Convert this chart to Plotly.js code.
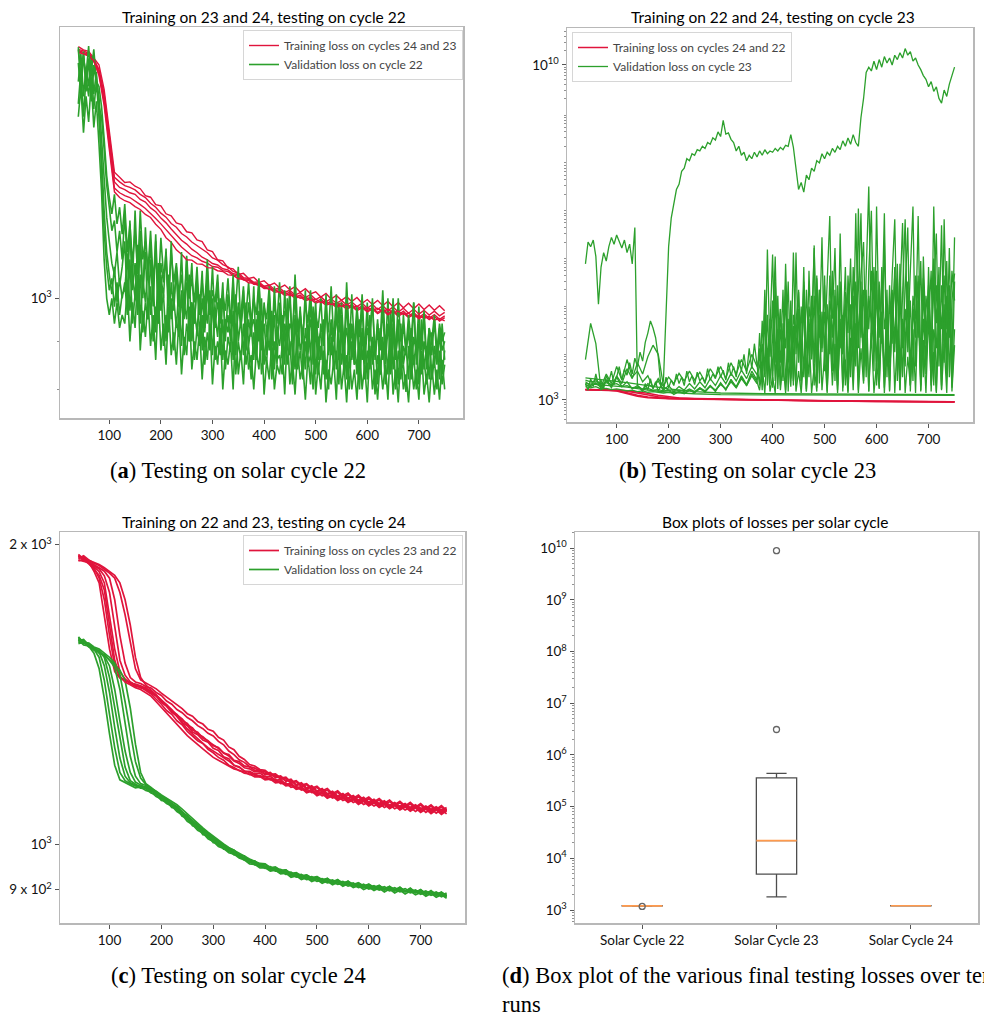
<!DOCTYPE html>
<html><head><meta charset="utf-8">
<script src="https://cdn.plot.ly/plotly-3.0.1.min.js"></script>
<style>html,body{margin:0;padding:0;background:#fff;}#chart{width:984px;height:1012px;}</style>
</head><body><div id="chart"></div>
<script>
// ---------------- epochs ----------------
const E10 = [40,50,60,70,80,90,100,110,120,130,140,150,160,170,180,190,200,210,220,230,240,250,260,270,280,290,300,310,320,330,340,350,360,370,380,390,400,410,420,430,440,450,460,470,480,490,500,510,520,530,540,550,560,570,580,590,600,610,620,630,640,650,660,670,680,690,700,710,720,730,740,750];
const E5 = [40,45,50,55,60,65,70,75,80,85,90,95,100,105,110,115,120,125,130,135,
140,145,150,155,160,165,170,175,180,185,190,195,200,205,210,215,220,225,230,235,
240,245,250,255,260,265,270,275,280,285,290,295,300,305,310,315,320,325,330,335,
340,345,350,355,360,365,370,375,380,385,390,395,400,405,410,415,420,425,430,435,
440,445,450,455,460,465,470,475,480,485,490,495,500,505,510,515,520,525,530,535,
540,545,550,555,560,565,570,575,580,585,590,595,600,605,610,615,620,625,630,635,
640,645,650,655,660,665,670,675,680,685,690,695,700,705,710,715,720,725,730,735,
740,745,750];
const EBmix = E10.slice(0,34).concat(E5.slice(67));
const EBsparse = [40,80,120,160,200,250,300,400,500,600,750];
const ERB = [40,80,100,120,140,160,180,200,220,250,300,400,500,600,750];

// ---------------- panel (a): testing on cycle 22 ----------------
const trainA1 = [1852,1838,1831,1801,1772,1668,1515,1362,1345,1328,1330,1316,1308,1286,1281,1258,1254,1230,1224,1203,1198,1177,1174,1154,1149,1126,1121,1099,1096,1077,1075,1060,1063,1050,1053,1040,1044,1032,1038,1026,1033,1021,1029,1015,1024,1011,1016,1003,1012,998,1007,995,1004,992,1002,988,997,985,995,982,993,979,990,977,988,975,986,973,984,971,982,970];
const trainA2 = [1840,1833,1822,1798,1752,1650,1490,1345,1330,1318,1312,1304,1290,1280,1262,1250,1232,1220,1201,1190,1172,1162,1148,1138,1126,1118,1104,1098,1086,1080,1068,1064,1052,1050,1040,1041,1030,1033,1022,1026,1015,1020,1008,1014,1002,1009,997,1004,992,999,988,995,984,991,980,988,976,985,973,982,970,979,967,976,964,974,962,971,960,969,958,966];
const trainA3 = [1835,1826,1818,1790,1745,1635,1470,1330,1312,1305,1295,1290,1274,1266,1248,1236,1217,1203,1185,1170,1153,1142,1128,1118,1106,1099,1089,1085,1075,1072,1062,1060,1049,1048,1037,1038,1027,1029,1018,1022,1010,1015,1003,1008,997,1003,991,998,986,993,981,989,977,985,973,982,970,978,966,975,963,972,960,969,957,966,954,963,952,961,950,958];
const trainA4 = [1830,1822,1812,1786,1735,1620,1455,1310,1295,1286,1280,1270,1258,1246,1232,1216,1200,1182,1166,1150,1134,1122,1110,1104,1095,1090,1081,1079,1070,1068,1058,1056,1046,1045,1035,1034,1024,1025,1015,1017,1007,1010,1000,1004,994,998,988,993,983,988,978,984,974,980,970,977,967,974,963,971,960,968,957,965,954,962,951,959,949,957,946,954];
const trainA5 = [1826,1820,1810,1790,1726,1604,1440,1298,1280,1270,1264,1252,1243,1228,1219,1199,1184,1160,1147,1126,1114,1099,1098,1088,1087,1078,1077,1070,1068,1059,1058,1049,1048,1039,1038,1031,1030,1022,1022,1014,1015,1007,1008,1000,1003,995,998,990,993,985,988,980,986,977,981,974,978,971,976,968,974,965,969,961,964,955,959,952,957,948,952,946];
const valA1 = [1780,1650,1820,1700,1790,1620,1760,1690,1640,
1480,1330,1220,1150,1090,1060,1120,1030,1080,
1150,990,1210,1020,1090,960,1180,1010,1120,950,
1100,980,1150,940,1060,1000,1130,930,1040,970,
1080,920,1010,960,1100,900,990,940,1050,910,
1000,930,1070,890,980,950,1040,880,1010,920,
960,900,1050,870,990,930,1020,880,950,910,
1030,860,970,900,940,870,1010,890,960,850,
990,880,940,910,1030,860,950,890,980,840,
930,880,1000,850,960,900,920,830,1010,870,
940,860,970,890,910,840,1000,870,930,850,
960,820,920,880,990,850,910,870,950,830,
900,870,1000,840,920,860,950,820,890,870,
940,830,910,880,980,840,900,860,930,820,
890,850,920,830,880];
const valA2 = [1610,1750,1560,1720,1640,1780,1590,1700,1560,
1420,1240,1120,1060,1010,1080,990,1050,1000,
1040,960,1100,940,1010,980,1060,920,990,950,
1030,900,980,940,1050,890,960,920,1000,880,
950,910,1020,870,940,900,990,860,930,890,
960,850,920,880,1000,860,900,870,950,840,
910,880,970,830,900,860,940,850,890,820,
920,860,950,830,880,850,990,820,900,860,
870,830,930,850,900,810,960,840,880,820,
900,850,870,800,940,830,890,850,860,800,
910,840,880,810,950,830,870,800,900,850,
860,800,930,820,880,840,900,790,870,830,
910,810,860,830,940,800,880,840,850,795,
890,820,870,800,920,830,860,810,900,820,
860,800,880,810,850];
const valA3 = [1840,1700,1800,1730,1855,1680,1770,1720,1600,
1560,1440,1320,1250,1180,1210,1120,1180,1100,
1230,1080,1170,1040,1240,1060,1130,1000,1190,1050,
1140,1010,1170,990,1090,1040,1120,980,1150,1000,
1060,980,1120,950,1040,1000,1090,940,1030,970,
1070,920,1020,960,1080,930,990,950,1040,900,
1010,940,1060,900,980,960,1030,910,990,930,
950,900,1040,880,990,920,960,890,1030,910,
960,880,1020,900,940,920,1010,870,970,900,
1020,870,950,910,990,860,940,900,1000,880,
950,900,1010,860,960,890,930,870,1010,880,
940,870,990,850,930,900,1000,860,920,880,
980,850,930,890,1000,870,920,850,960,880,
920,860,990,850,930,880,960,840,910,870,
950,860,930,880,900];
const valA4 = [1700,1820,1640,1760,1680,1810,1650,1740,1580,
1380,1180,1080,1020,1050,980,1040,960,1010,
1020,1110,970,1060,1000,1140,940,1050,990,1080,
960,1040,920,1090,970,1010,900,1060,950,1000,
930,1030,890,990,950,1060,900,970,920,1010,
880,990,940,1020,870,960,910,1000,860,950,
920,970,860,1010,900,950,870,990,890,940,
860,950,900,1000,850,930,880,970,840,920,
890,960,850,1000,870,920,840,950,880,910,
840,940,870,980,830,910,860,950,820,900,
870,930,840,990,850,900,820,940,860,910,
830,950,860,910,820,960,850,900,810,930,
860,910,830,970,840,900,810,940,850,890,
820,930,850,900,810,950,840,890,820,920,
850,900,820,940,860];
const valA5 = [1850,1720,1830,1660,1800,1740,1840,1700,1680,
1600,1480,1350,1280,1230,1290,1200,1250,1170,
1260,1120,1200,1090,1180,1060,1240,1100,1150,1070,
1180,1050,1110,1020,1160,1060,1090,1000,1120,1040,
1090,1010,1060,980,1110,1000,1050,990,1080,960,
1040,980,1100,960,1020,990,1060,940,1010,970,
1050,950,1000,980,1080,930,990,960,1040,940,
1000,960,1050,920,980,950,1030,910,990,940,
1040,920,970,950,1000,900,1060,930,960,910,
990,940,1020,900,960,930,1000,890,970,920,
1030,900,950,920,990,880,1040,910,940,900,
980,910,1010,880,950,920,990,870,940,900,
1020,890,940,910,970,870,1000,900,930,880,
960,900,990,870,940,890,970,860,930,900,
960,880,940,900,920];
const valA6 = [1560,1680,1500,1640,1540,1700,1520,1620,1460,
1300,1100,1000,960,1000,940,990,930,960,
940,1030,900,990,930,1060,880,970,910,1000,
890,960,860,1010,880,940,850,980,870,920,
850,950,830,910,870,980,840,900,860,930,
820,910,860,940,810,890,850,930,800,880,
850,900,800,940,830,880,810,920,840,870,
800,880,840,930,790,860,820,900,800,850,
830,890,790,920,810,860,790,880,820,850,
780,870,810,910,790,850,800,880,775,840,
810,860,780,900,800,850,775,870,800,840,
780,880,800,850,775,890,800,840,780,860,
800,850,780,900,790,840,775,870,800,830,
775,860,800,840,780,880,790,830,775,850,
790,840,780,860,800];

// ---------------- panel (b): testing on cycle 23 ----------------
const trainB1 = [1650,1640,1600,1520,1400,1260,1170,1120,1090,1060,1030,990,960,935,915];
const trainB2 = [1640,1620,1560,1420,1250,1150,1100,1080,1065,1050,1020,985,955,930,910];
const trainB3 = [1660,1650,1620,1560,1480,1380,1260,1160,1100,1070,1040,1000,965,940,920];
const trainB4 = [1630,1610,1540,1380,1200,1120,1080,1060,1050,1040,1015,980,950,925,905];
const valB1 = [2.2e3,1.6e3,2.8e3,1.9e3,3.5e3,2.0e3,2.6e3,1.7e3,3.2e3,2.4e3,4.0e3,2.1e3,3.0e3,5.0e3,2.6e3,4.4e3,3.3e3,
6.0e3,3.5e3,7.5e3,5.0e3,1.0e4,6.5e3,1.6e4,2.5e4,4.5e4,3.2e4,2.0e4,8.0e3,2.0e3,
2.5e3,1.0e5,1.6e6,6.3e6,1.3e7,2.5e7,3.2e7,6.0e7,7.0e7,1.1e8,
1.0e8,1.4e8,1.3e8,1.7e8,1.6e8,2.0e8,1.8e8,2.4e8,2.2e8,3.0e8,
2.7e8,4.0e8,3.2e8,7.0e8,3.6e8,3.8e8,2.8e8,2.4e8,1.6e8,2.0e8,
1.3e8,1.5e8,1.0e8,1.3e8,1.1e8,1.5e8,1.2e8,1.6e8,1.3e8,1.7e8,
1.4e8,1.6e8,1.5e8,1.8e8,1.6e8,1.9e8,1.7e8,2.1e8,2.0e8,3.5e8,
1.9e8,7.0e7,2.5e7,3.5e7,2.2e7,5.0e7,4.0e7,7.0e7,6.0e7,1.0e8,
9.0e7,1.4e8,1.1e8,1.5e8,1.3e8,1.8e8,1.5e8,2.0e8,1.7e8,2.6e8,
2.0e8,3.0e8,2.2e8,3.5e8,2.4e8,2.0e8,8.0e8,2.0e9,7.0e9,9.0e9,
7.5e9,1.2e10,8.0e9,1.3e10,9.0e9,1.5e10,1.1e10,1.4e10,1.0e10,1.6e10,
1.3e10,1.8e10,1.4e10,2.2e10,1.6e10,1.9e10,1.2e10,1.4e10,1.0e10,8.0e9,
6.0e9,5.0e9,3.5e9,4.5e9,2.8e9,3.5e9,2.0e9,1.6e9,3.0e9,2.2e9,
4.0e9,6.0e9,9.0e9];
const valB2 = [7.0e5,2.0e6,1.6e6,2.2e6,1.0e6,1.0e5,6.0e5,1.2e6,8.0e5,1.6e6,2.5e6,1.8e6,2.8e6,2.0e6,1.5e6,2.2e6,1.2e6,1.8e6,7.0e5,4.0e6,
2.0e3,
1.8e3,1.5e3,2.2e3,1.6e3,2.8e3,1.7e3,2.4e3,1.5e3,2.0e3,1.6e3,
3.0e3,1.8e3,2.6e3,2.0e3,3.5e3,2.2e3,3.0e3,2.0e3,4.0e3,2.4e3,
3.2e3,2.1e3,3.8e3,2.5e3,3.0e3,2.2e3,4.5e3,2.6e3,3.5e3,2.8e3,
5.0e3,3.0e3,4.2e3,2.6e3,6.0e3,3.2e3,5.0e3,3.0e3,7.0e3,4.0e3,
9.0e3,3.5e3,1.2e4,4.5e3,1.5e4,5.0e3,
2.0e3,4.5e4,3.0e3,1.4e6,8.0e3,1.2e5,2.5e3,3.0e4,6.0e3,2.0e5,
1.6e3,5.0e4,4.0e3,1.2e6,9.0e3,8.0e4,2.0e3,2.5e5,1.5e4,3.0e3,
1.5e5,6.0e3,4.0e5,2.2e3,7.0e4,1.2e4,3.0e5,7.0e6,5.0e3,9.0e4,
2.0e3,2.0e5,2.0e4,6.0e5,3.5e3,1.0e5,8.0e3,8.0e6,1.5e4,3.0e5,
2.5e3,1.5e5,3.0e4,5.0e5,4.0e3,1.1e7,2.0e4,2.5e5,1.8e3,7.0e4,
6.0e3,4.0e5,6.0e6,1.0e4,2.0e5,3.0e3,8.0e4,2.0e4,5.0e5,1.1e7,
5.0e3,1.2e5,2.5e3,3.5e5,1.5e4,8.0e4,3.0e3,1.1e7,4.0e4,2.0e5,
2.0e3,6.0e6,3.0e4,1.5e5,8.0e3,2.5e6];
const valB3 = [7.0e3,4.0e4,1.5e4,1.6e3,2.5e3,1.8e3,3.2e3,2.2e3,4.5e3,2.8e3,
6.0e3,3.5e3,8.0e3,1.4e4,9.0e3,2.0e3,3.0e3,2.2e3,3.6e3,2.5e3,
4.0e3,2.6e3,3.8e3,2.4e3,4.5e3,3.0e3,5.0e3,2.8e3,6.0e3,3.5e3,
7.0e3,4.0e3,9.0e3,5.0e3,
8.0e3,2.5e3,1.0e5,4.0e3,3.0e4,1.1e6,6.0e3,1.5e5,2.0e3,4.0e4,
1.2e4,3.0e5,2.8e3,6.0e4,2.0e4,1.8e5,5.0e3,1.0e5,2.0e3,5.0e5,
9.0e3,1.7e6,3.0e3,2.0e5,1.5e4,7.0e4,2.5e3,4.0e5,2.0e4,1.5e5,
4.0e3,3.0e6,1.0e4,8.0e4,2.0e5,3.0e3,6.0e5,1.5e4,2.0e5,8.0e6,
6.0e3,4.0e5,2.9e7,2.0e4,3.0e5,5.0e3,1.2e5,4.0e4,8.0e6,3.0e3,
2.5e5,1.5e4,6.0e5,4.0e3,1.5e5,5.0e6,8.0e3,3.0e5,2.0e3,9.0e4,
2.5e4,7.0e6,6.0e3,2.0e5,3.5e3,6.0e5,1.2e4,1.5e5,3.0e6,5.0e3,
2.5e5,1.8e4,8.0e5,3.0e3,1.2e5,4.4e5];
const valB4 = [2.4e3,2.0e3,2.8e3,1.9e3,3.5e3,2.2e3,5.0e3,2.6e3,7.0e3,3.0e3,
4.0e3,2.4e3,3.2e3,1.8e3,2.5e3,1.6e3,2.0e3,1.5e3,1.9e3,1.6e3,
2.2e3,1.7e3,2.4e3,1.8e3,2.8e3,2.0e3,3.2e3,2.2e3,3.6e3,2.5e3,
4.2e3,2.8e3,5.0e3,3.4e3,
5.0e3,1.5e4,3.5e3,6.0e4,2.2e3,2.0e4,1.0e6,4.0e3,8.0e4,2.5e3,
1.5e5,7.0e3,4.0e4,2.0e3,1.2e6,6.0e3,9.0e4,3.0e3,2.0e5,1.2e4,
5.0e4,2.0e3,3.5e5,2.0e4,2.5e6,4.0e3,1.0e5,9.0e3,5.0e5,2.5e3,
2.5e5,1.2e4,6.0e4,2.0e3,4.0e5,3.0e4,1.5e5,5.0e3,1.0e7,2.0e4,
2.0e5,3.0e3,5.0e5,9.0e6,1.0e4,2.0e5,2.5e3,6.0e5,3.0e4,1.0e5,
1.6e3,2.0e5,1.5e4,7.0e5,4.0e3,2.5e5,6.0e6,1.0e4,1.2e5,2.5e3,
4.0e5,2.0e4,8.0e5,3.0e3,1.5e5,4.0e4,5.0e5,2.0e3,2.5e5,3.0e4,
4.5e6,6.0e3,1.5e5,2.0e4,5.0e5,1.2e5];
const valB5 = [2.6e3,2.4e3,2.5e3,2.2e3,2.3e3,2.1e3,2.2e3,1.9e3,2.0e3,1.8e3,
1.85e3,1.7e3,1.75e3,1.6e3,1.65e3,1.55e3,1.6e3,1.5e3,1.6e3,1.5e3,
1.7e3,1.5e3,1.8e3,1.55e3,2.0e3,1.6e3,2.2e3,1.7e3,2.6e3,1.9e3,
3.0e3,2.0e3,3.5e3,2.4e3,
1.6e3,5.0e3,1.4e3,1.2e4,1.5e3,3.0e3,1.4e3,2.0e4,1.6e3,6.0e3,
1.4e3,1.0e4,1.9e3,3.5e4,1.5e3,4.0e3,1.4e3,8.0e3,1.7e3,2.5e4,
1.4e3,5.0e3,1.5e3,6.0e4,1.6e3,9.0e3,1.4e3,3.0e4,2.0e3,1.5e4,
1.4e3,5.0e4,1.8e3,7.0e3,1.4e3,2.0e4,1.6e3,4.0e4,1.4e3,1.2e4,
2.2e3,8.0e4,1.5e3,2.5e4,1.4e3,6.0e3,1.8e3,4.5e4,1.4e3,1.5e4,
2.5e3,9.0e4,1.4e3,2.0e4,1.6e3,5.0e4,1.4e3,8.0e3,2.0e3,3.0e4,
1.4e3,1.2e5,1.5e3,1.8e4,1.4e3,6.0e4,2.0e3,1.0e4,1.4e3,4.0e4,
1.6e3,1.5e4,1.4e3,7.0e4,1.8e3,3.0e4];
const valB6 = [2.2e3,2.0e3,1.85e3,1.6e3,1.45e3,1.35e3,1.3e3,1.28e3,1.27e3,1.26e3,1.25e3];
const valB7 = [2.9e3,2.6e3,2.3e3,2.0e3,1.7e3,1.5e3,1.4e3,1.35e3,1.33e3,1.31e3,1.3e3];
const valB8 = [1.9e3,1.8e3,1.9e3,1.7e3,1.75e3,1.65e3,1.7e3,1.6e3,1.55e3,1.6e3,
1.5e3,1.55e3,1.45e3,1.5e3,1.45e3,1.4e3,1.45e3,1.4e3,1.5e3,1.4e3,
1.6e3,1.45e3,1.7e3,1.5e3,1.9e3,1.6e3,2.1e3,1.7e3,2.4e3,1.8e3,
2.8e3,2.0e3,3.2e3,2.2e3,
2.5e4,3.0e3,2.0e5,6.0e3,5.0e4,1.8e3,3.0e5,1.5e4,8.0e4,3.0e3,
7.0e5,1.0e4,1.2e5,2.5e3,4.0e4,2.0e5,5.0e3,6.0e5,1.5e3,9.0e4,
3.0e4,1.5e6,4.0e3,2.0e5,1.0e4,4.0e5,2.0e3,1.2e5,5.0e4,1.5e6,
6.0e3,3.0e5,1.5e3,1.0e5,2.5e4,9.0e5,3.0e3,2.5e5,1.2e4,4.0e5,
2.0e6,5.0e3,1.5e5,4.0e4,6.0e5,2.0e3,3.0e5,1.5e4,2.0e6,5.0e3,
1.0e5,3.0e4,4.0e5,2.5e3,7.0e5,1.2e4,2.0e5,4.0e6,3.0e3,1.5e5,
5.0e4,3.0e5,2.0e3,1.0e6,2.0e4,2.5e5,6.0e3,9.0e5,1.5e3,2.0e5,
3.0e4,4.0e5,8.0e3,1.5e6,2.5e3,3.0e5];
const valB9 = [2.1e3,1.9e3,2.3e3,1.8e3,2.6e3,2.0e3,3.0e3,1.9e3,2.4e3,1.7e3,
2.0e3,1.6e3,2.2e3,1.8e3,2.8e3,1.9e3,1.6e3,1.3e3,1.5e3,1.35e3,
1.6e3,1.4e3,1.8e3,1.45e3,2.0e3,1.5e3,2.3e3,1.6e3,2.7e3,1.8e3,
3.2e3,2.1e3,4.0e3,2.6e3,
1.2e4,1.6e3,6.0e4,2.0e3,2.0e4,4.0e3,1.5e5,1.7e3,3.0e4,8.0e3,
2.5e5,1.5e3,6.0e4,1.0e4,2.0e3,8.0e4,2.5e3,3.0e5,1.5e3,5.0e4,
7.0e3,1.5e5,1.8e3,4.0e4,1.2e4,2.5e5,1.5e3,6.0e4,4.0e3,2.0e5,
1.6e3,3.0e4,9.0e3,1.8e5,1.5e3,5.0e4,2.0e4,3.0e5,1.6e3,8.0e4,
6.0e3,2.0e5,1.5e3,4.0e4,1.5e4,5.0e5,1.7e3,7.0e4,3.0e3,2.0e5,
1.5e3,6.0e4,1.0e4,3.5e5,1.6e3,2.5e4,5.0e3,1.5e5,1.5e3,8.0e4,
2.0e4,4.0e5,1.6e3,5.0e4,7.0e3,2.0e5,1.5e3,3.0e4,1.2e4,6.0e5,
1.7e3,1.0e5,3.0e3,2.5e5,1.5e3,1.4e4];

// ---------------- panel (c): testing on cycle 24 ----------------
const trainC1 = [1955,1935,1920,1880,1830,1700,1570,1490,1468,1462,1452,1440,1438,1425,1415,1398,1382,1362,1350,1330,1318,1298,1285,1270,1262,1245,1235,1222,1214,1200,1194,1185,1182,1174,1176,1168,1170,1160,1162,1150,1152,1140,1143,1133,1136,1126,1128,1118,1122,1112,1117,1106,1112,1101,1107,1096,1102,1092,1099,1088,1095,1085,1092,1082,1089,1078,1087,1076,1085,1074,1083,1072];
const trainC2 = [1940,1945,1915,1895,1850,1760,1620,1510,1470,1458,1455,1446,1435,1432,1418,1408,1388,1375,1356,1345,1325,1315,1296,1288,1272,1266,1248,1242,1224,1218,1200,1196,1184,1183,1176,1179,1168,1170,1159,1161,1148,1151,1138,1142,1128,1134,1120,1126,1113,1120,1108,1115,1104,1110,1099,1105,1094,1101,1090,1097,1087,1094,1084,1091,1081,1088,1078,1086,1076,1084,1074,1082];
const trainC3 = [1930,1925,1918,1900,1878,1830,1700,1570,1490,1465,1450,1448,1442,1430,1425,1410,1395,1378,1365,1348,1336,1318,1308,1290,1282,1268,1258,1248,1235,1226,1212,1205,1193,1190,1182,1183,1174,1176,1166,1168,1156,1159,1145,1149,1136,1141,1128,1133,1121,1127,1115,1121,1110,1116,1104,1111,1099,1106,1095,1102,1091,1098,1088,1095,1085,1092,1082,1089,1080,1087,1078,1085];
const trainC4 = [1950,1928,1925,1905,1890,1860,1790,1650,1530,1478,1455,1444,1440,1436,1422,1412,1392,1380,1360,1350,1330,1322,1302,1295,1278,1270,1255,1250,1234,1230,1214,1210,1198,1195,1186,1187,1177,1180,1168,1171,1158,1162,1147,1152,1138,1144,1130,1137,1123,1130,1117,1124,1112,1119,1107,1114,1102,1109,1098,1105,1094,1101,1091,1098,1088,1095,1085,1092,1083,1090,1081,1088];
const trainC5 = [1945,1940,1922,1910,1895,1880,1850,1760,1620,1520,1470,1455,1450,1440,1435,1420,1410,1392,1382,1365,1355,1340,1330,1315,1306,1292,1284,1268,1258,1240,1230,1215,1208,1196,1192,1184,1182,1172,1173,1162,1164,1151,1155,1142,1147,1134,1140,1127,1133,1120,1127,1114,1121,1109,1116,1104,1111,1100,1107,1096,1103,1093,1100,1090,1097,1087,1094,1084,1091,1082,1089,1079];
const trainC6 = [1935,1948,1930,1915,1905,1890,1872,1850,1790,1700,1590,1500,1462,1452,1442,1432,1418,1405,1392,1378,1368,1352,1344,1328,1320,1304,1298,1280,1272,1252,1244,1225,1216,1202,1198,1188,1186,1175,1176,1165,1167,1154,1158,1146,1150,1138,1143,1131,1137,1124,1131,1118,1125,1112,1120,1107,1115,1103,1111,1099,1107,1095,1104,1092,1101,1089,1098,1086,1095,1083,1093,1081];
const trainC7 = [1925,1932,1928,1920,1910,1895,1880,1862,1830,1760,1660,1540,1470,1445,1428,1412,1398,1380,1362,1342,1322,1305,1290,1275,1262,1250,1240,1232,1220,1212,1200,1194,1184,1180,1172,1172,1164,1165,1156,1157,1147,1149,1138,1141,1130,1134,1123,1128,1117,1122,1111,1117,1106,1112,1101,1108,1097,1104,1093,1100,1090,1097,1087,1094,1084,1091,1081,1088,1079,1086,1077,1084];
const trainC8 = [1948,1930,1912,1890,1862,1800,1660,1530,1475,1455,1446,1436,1430,1420,1408,1390,1372,1352,1336,1318,1302,1285,1272,1258,1246,1234,1222,1214,1206,1198,1190,1186,1178,1176,1168,1169,1160,1162,1152,1154,1144,1146,1135,1138,1126,1130,1118,1124,1112,1118,1106,1113,1101,1108,1096,1104,1092,1100,1088,1096,1085,1093,1082,1090,1079,1087,1076,1084,1073,1082,1071,1080];
const valC1 = [1610,1598,1580,1555,1500,1400,1290,1200,1160,1152,1146,1139,1141,1132,1128,1116,1110,1098,1092,1078,1070,1054,1046,1032,1026,1012,1006,994,990,980,977,968,964,955,954,946,947,939,941,933,935,926,929,921,925,917,921,913,918,910,915,907,912,904,908,900,905,898,903,895,901,893,899,891,897,889,894,886,892,884,889,882];
const valC2 = [1600,1605,1585,1570,1540,1460,1350,1250,1180,1158,1150,1143,1138,1137,1125,1121,1106,1104,1088,1085,1066,1062,1043,1040,1022,1020,1003,1002,988,987,975,975,963,962,953,953,945,946,939,939,932,933,926,927,921,923,917,919,914,916,911,913,907,910,904,907,901,904,899,902,897,900,895,898,893,896,890,894,888,892,885,890];
const valC3 = [1595,1590,1588,1575,1560,1510,1420,1310,1220,1170,1152,1146,1144,1140,1134,1124,1116,1108,1100,1090,1078,1066,1054,1044,1034,1024,1014,1006,997,990,986,974,973,962,962,952,954,945,948,939,942,932,935,926,931,922,927,918,924,914,921,911,918,908,914,905,911,902,909,900,907,898,905,896,903,894,900,891,898,889,895,887];
const valC4 = [1615,1592,1590,1570,1565,1540,1470,1370,1270,1195,1158,1148,1140,1142,1130,1126,1112,1110,1094,1090,1074,1068,1050,1046,1030,1026,1010,1006,994,990,980,976,967,964,957,955,948,949,942,943,936,937,930,932,925,927,921,923,917,920,914,917,911,914,907,911,904,908,902,906,900,904,898,902,896,899,893,897,891,895,888,893];
const valC5 = [1590,1596,1578,1572,1558,1545,1510,1430,1330,1240,1180,1154,1146,1140,1133,1122,1114,1102,1096,1082,1074,1058,1050,1036,1030,1015,1010,997,993,983,979,970,967,958,956,949,948,941,942,935,936,929,930,924,926,920,922,916,919,913,916,910,913,907,910,904,907,901,905,899,903,897,901,895,899,893,896,890,894,888,891,886];
const valC6 = [1605,1585,1582,1566,1560,1548,1530,1505,1430,1320,1225,1170,1150,1145,1138,1130,1120,1112,1104,1095,1084,1072,1060,1050,1038,1028,1018,1008,1000,992,985,978,972,966,961,956,955,947,948,941,942,934,936,929,931,925,927,921,923,917,920,914,917,911,914,908,911,905,908,902,906,900,904,897,901,895,899,892,896,890,894,887];
const valC7 = [1598,1602,1580,1575,1555,1550,1530,1515,1495,1460,1370,1260,1180,1150,1140,1128,1118,1108,1098,1088,1076,1066,1055,1044,1034,1024,1015,1004,998,988,982,973,969,961,958,951,950,943,944,937,938,931,932,926,928,922,924,918,921,915,918,912,915,909,912,906,909,903,907,901,905,899,903,897,901,895,898,892,896,890,893,887];
const valC8 = [1608,1595,1592,1578,1570,1555,1540,1520,1480,1390,1290,1210,1165,1148,1136,1124,1116,1104,1096,1084,1075,1062,1053,1040,1032,1020,1012,1000,995,985,980,971,967,959,957,950,949,942,943,936,937,930,931,925,927,921,923,917,920,914,917,911,914,908,911,905,908,902,906,900,904,898,902,896,900,894,897,891,895,889,892,885];

// ---------------- panel (d): final testing losses over ten runs ----------------
const boxLabels = ['Solar Cycle 22','Solar Cycle 23','Solar Cycle 24'];
const finalLoss22 = [1175,1196,1198,1200,1202,1204,1206,1208,1210,1212];
const finalLoss23 = [1800,2500,3500,9340,14000,30000,120000,440000,3.1e6,8.9e9];
const finalLoss24 = [1205,1207,1208,1210,1211,1212,1213,1215,1216,1218];

// ---------------- text ----------------
const titles = ['Training on 23 and 24, testing on cycle 22','Training on 22 and 24, testing on cycle 23','Training on 22 and 23, testing on cycle 24','Box plots of losses per solar cycle'];
const trainNames = ['Training loss on cycles 24 and 23','Training loss on cycles 24 and 22','Training loss on cycles 23 and 22'];
const valNames = ['Validation loss on cycle 22','Validation loss on cycle 23','Validation loss on cycle 24'];
const captions = ['(<b>a</b>) Testing on solar cycle 22','(<b>b</b>) Testing on solar cycle 23','(<b>c</b>) Testing on solar cycle 24','(<b>d</b>) Box plot of the various final testing losses over ten<br>runs'];
const xTicks = [100,200,300,400,500,600,700];

// ================= build =================
const W = 984, H = 1012;
const RED = '#e0143c', GREEN = '#2ca02c';
const FONT = 'Lato, "Open Sans", sans-serif';
const dx = (a,b) => [a/W, b/W];
const dy = (top,bot) => [1-bot/H, 1-top/H];
const traces = [];
const debug = [];
function ln(x, y, color, ax, name, show, legend, w){
  if (x.length !== y.length) debug.push(name+' '+x.length+'/'+y.length);
  return {type:'scatter', mode:'lines', x:x, y:y, xaxis:'x'+ax, yaxis:'y'+ax,
    line:{color:color, width:w}, name:name, showlegend:show, legend:legend, hoverinfo:'skip'};
}
function panel(ax, legend, redX, reds, greenX, greens, tName, vName, wr, wg){
  const n = Math.max(reds.length, greens.length);
  for (let i=0;i<n;i++){
    if (i<reds.length) traces.push(ln(redX[i], reds[i], RED, ax, tName, i===0, legend, wr));
    if (i<greens.length) traces.push(ln(greenX[i], greens[i], GREEN, ax, vName, i===0, legend, wg));
  }
}
panel('', 'legend', [E10,E10,E10,E10,E10], [trainA1,trainA2,trainA3,trainA4,trainA5],
  [E5,E5,E5,E5,E5,E5], [valA1,valA4,valA2,valA5,valA3,valA6], trainNames[0], valNames[0], 1.4, 1.6);
(function(){
  const reds=[trainB1,trainB2,trainB3,trainB4];
  reds.forEach((r,i)=>traces.push(ln(ERB, r, RED, '2', trainNames[1], i===0, 'legend2', 1.5)));
  const gx=[EBsparse,EBsparse,EBmix,EBmix,EBmix,EBmix,EBmix,E5,E5];
  const gs=[valB6,valB7,valB5,valB9,valB8,valB4,valB3,valB2,valB1];
  gs.forEach((g,i)=>traces.push(ln(gx[i], g, GREEN, '2', valNames[1], i===0, 'legend2', 1.3)));
})();
panel('3', 'legend3', [E10,E10,E10,E10,E10,E10,E10,E10],
  [trainC1,trainC2,trainC3,trainC4,trainC5,trainC6,trainC7,trainC8],
  [E10,E10,E10,E10,E10,E10,E10,E10],
  [valC1,valC2,valC3,valC4,valC5,valC6,valC7,valC8], trainNames[2], valNames[2], 1.7, 1.7);

// box plot stats (numpy linear percentiles, 1.5 IQR whiskers)
function pct(s,p){const i=p*(s.length-1),lo=Math.floor(i),hi=Math.ceil(i);return s[lo]+(s[hi]-s[lo])*(i-lo);}
const finals=[finalLoss22,finalLoss23,finalLoss24];
const medX=[], medY=[], outX=[], outY=[];
finals.forEach((arr,k)=>{
  const s=arr.slice().sort((a,b)=>a-b);
  const q1=pct(s,0.25), md=pct(s,0.5), q3=pct(s,0.75), iqr=q3-q1;
  const inl=s.filter(v=>v>=q1-1.5*iqr && v<=q3+1.5*iqr);
  s.forEach(v=>{ if(v<q1-1.5*iqr||v>q3+1.5*iqr){outX.push(k+1);outY.push(v);} });
  traces.push({type:'box', x:[k+1], q1:[q1], median:[md], q3:[q3], lowerfence:[inl[0]], upperfence:[inl[inl.length-1]],
    width:0.3, whiskerwidth:0.5, fillcolor:'rgba(0,0,0,0)', line:{color:'#4d4d4d', width:1.3},
    boxpoints:false, xaxis:'x4', yaxis:'y4', showlegend:false, hoverinfo:'skip'});
  medX.push(k+1-0.15, k+1+0.15, null); medY.push(md, md, null);
});
traces.push({type:'scatter', mode:'lines', x:medX, y:medY, xaxis:'x4', yaxis:'y4', line:{color:'#ff9a4d', width:1.6}, showlegend:false, hoverinfo:'skip'});
traces.push({type:'scatter', mode:'markers', x:outX, y:outY, xaxis:'x4', yaxis:'y4', showlegend:false, hoverinfo:'skip',
  marker:{symbol:'circle-open', size:6, color:'#666', line:{width:1.3, color:'#666'}}});

// ticks
function minorLog(d0, d1){const t=[];for(let d=d0;d<=d1;d++)for(let k=2;k<=9;k++)t.push(k*Math.pow(10,d));return t;}
const sup = n => '10<sup>'+n+'</sup>';
const tickFont = {family:FONT, size:13.5, color:'#111'};
const base = {showgrid:false, zeroline:false, showline:true, mirror:true, linecolor:'#b8b8b8', linewidth:1.5,
  ticks:'outside', ticklen:4, tickwidth:1, tickcolor:'#555', tickfont:tickFont};
const xEp = Object.assign({}, base, {range:[4.5,785.5], tickmode:'array', tickvals:xTicks, ticktext:xTicks.map(String)});
const minorStyle = {ticks:'outside', ticklen:2, tickwidth:0.8, tickcolor:'#777', showgrid:false};

const layout = {
  width:W, height:H, margin:{l:0,r:0,t:0,b:0}, paper_bgcolor:'#fff', plot_bgcolor:'#fff',
  font:{family:FONT, color:'#111'}, hovermode:false, showlegend:true,
  xaxis: Object.assign({}, xEp, {domain:dx(60,463), anchor:'y'}),
  yaxis: Object.assign({}, base, {type:'log', domain:dy(27,418), anchor:'x', range:[2.8727,3.2886],
    tickmode:'array', tickvals:[1000], ticktext:[sup(3)], minor:Object.assign({tickmode:'array', tickvals:[800,900]}, minorStyle)}),
  xaxis2: Object.assign({}, xEp, {domain:dx(567,973), anchor:'y2'}),
  yaxis2: Object.assign({}, base, {type:'log', domain:dy(28,422), anchor:'x2', range:[2.540,10.773],
    tickmode:'array', tickvals:[1e3,1e10], ticktext:[sup(3),sup(10)], minor:Object.assign({tickmode:'array', tickvals:minorLog(2,10)}, minorStyle)}),
  xaxis3: Object.assign({}, xEp, {domain:dx(60,465), anchor:'y3'}),
  yaxis3: Object.assign({}, base, {type:'log', domain:dy(532,923), anchor:'x3', range:[2.9206,3.3136],
    tickmode:'array', tickvals:[900,1000,2000], ticktext:['9 x '+sup(2), sup(3), '2 x '+sup(3)]}),
  xaxis4: Object.assign({}, base, {domain:dx(575,978), anchor:'y4', range:[0.5,3.5], tickmode:'array', tickvals:[1,2,3], ticktext:boxLabels}),
  yaxis4: Object.assign({}, base, {type:'log', domain:dy(532,923), anchor:'x4', range:[2.749,10.311],
    tickmode:'array', tickvals:[1e3,1e4,1e5,1e6,1e7,1e8,1e9,1e10], ticktext:[3,4,5,6,7,8,9,10].map(sup),
    minor:Object.assign({tickmode:'array', tickvals:minorLog(2,10)}, minorStyle)}),
  legend: {x:243/W, y:1-30/H, xanchor:'left', yanchor:'top'},
  legend2: {x:572/W, y:1-32/H, xanchor:'left', yanchor:'top'},
  legend3: {x:243/W, y:1-535/H, xanchor:'left', yanchor:'top'},
  annotations: []
};
['legend','legend2','legend3'].forEach(k=>Object.assign(layout[k], {bgcolor:'rgba(255,255,255,0.85)', bordercolor:'#d6d6d6', borderwidth:1,
  font:{family:FONT, size:12, color:'#444'}, tracegroupgap:0, itemwidth:30}));
function ann(text, x, y, size, family, xanchor, yanchor, align){
  layout.annotations.push({text:text, x:x/W, y:1-y/H, xref:'paper', yref:'paper', showarrow:false,
    xanchor:xanchor||'center', yanchor:yanchor||'middle', align:align||'center', font:{family:family, size:size, color:'#000'}});
}
ann(titles[0], 264, 17, 15.5, FONT);
ann(titles[1], 773, 17, 15.5, FONT);
ann(titles[2], 264, 522, 15.5, FONT);
ann(titles[3], 775, 522, 15.5, FONT);
const SERIF = '"Liberation Serif", "DejaVu Serif", serif';
ann(captions[0], 238, 470, 22.5, SERIF);
ann(captions[1], 747, 470, 22.5, SERIF);
ann(captions[2], 238, 975, 22.5, SERIF);
ann(captions[3], 500, 961, 22.5, SERIF, 'left', 'top', 'left');
if (debug.length) ann('LEN MISMATCH: '+debug.join('; '), 490, 500, 12, FONT);

Plotly.newPlot('chart', traces, layout, {staticPlot:true, displayModeBar:false});
</script></body></html>
